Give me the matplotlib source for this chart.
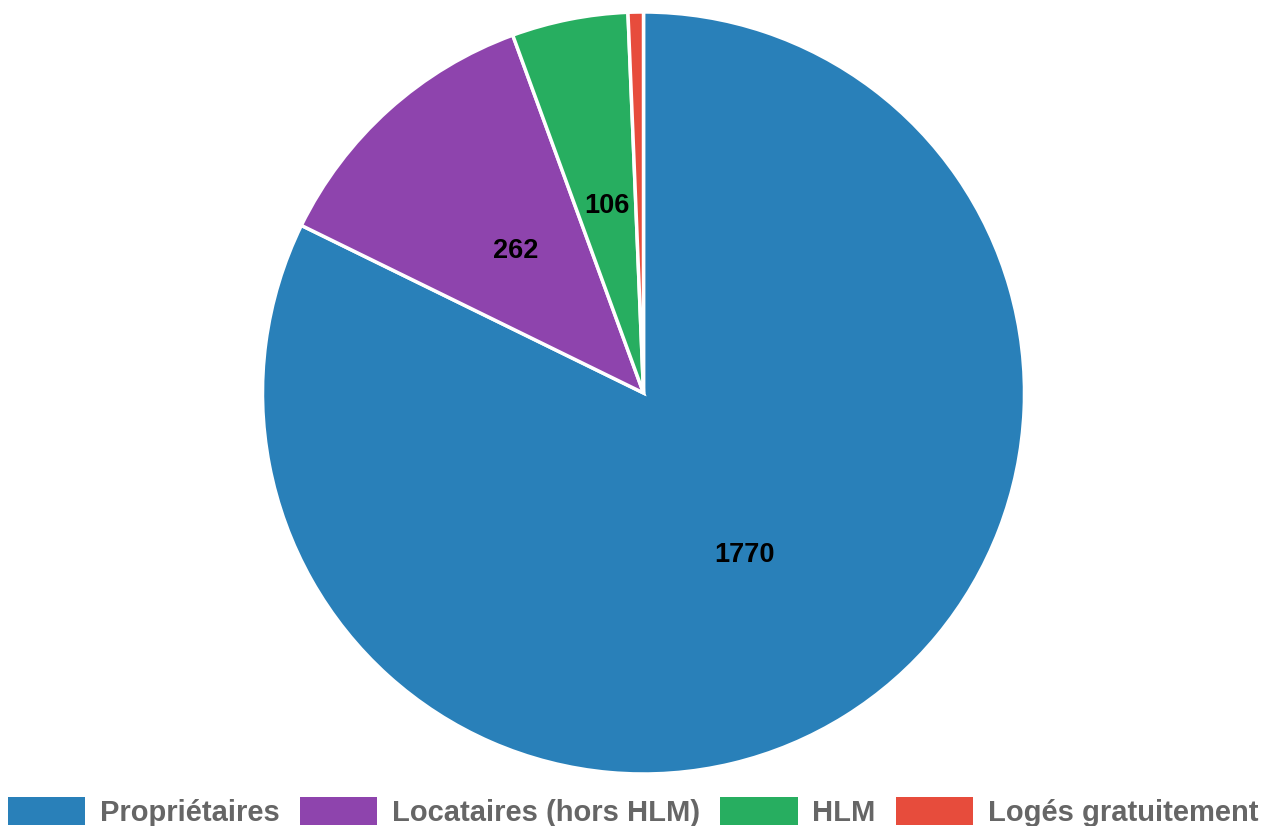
import matplotlib.pyplot as plt

# Statut d'occupation des logements
categories = ["Propriétaires", "Locataires (hors HLM)", "HLM", "Logés gratuitement"]
valeurs = [1770, 262, 106, 14]
couleurs = ["#2980b9", "#8e44ad", "#27ae60", "#e74c3c"]

plt.rcParams['font.family'] = ['Liberation Sans', 'DejaVu Sans']

W, H = 1261, 826
fig = plt.figure(figsize=(W / 100, H / 100), dpi=100)

# centre du camembert (pixels) et rayon
cx, cy, r = 643.5, 393, 381
ax = fig.add_axes([(cx - r) / W, (H - cy - r) / H, 2 * r / W, 2 * r / H])

total = sum(valeurs)
wedges, textes = ax.pie(
    valeurs, colors=couleurs, startangle=90, counterclock=False,
    labels=[str(v) if v / total > 0.02 else "" for v in valeurs],
    labeldistance=0.5,
    wedgeprops=dict(edgecolor="white", linewidth=2.5),
    textprops=dict(fontsize=19.5, fontweight="bold", color="black",
                   ha="center", va="center"),
)
ax.set_xlim(-1, 1)
ax.set_ylim(-1, 1)
ax.set_aspect("equal")
ax.axis("off")

leg = fig.legend(
    wedges, categories, loc="center", bbox_to_anchor=(0.502, (H - 812) / H),
    ncol=4, frameon=False, prop=dict(size=21, weight="bold"),
    handlelength=2.65, handleheight=1.1, handletextpad=0.5, columnspacing=0.7,
    borderpad=0,
)
for t in leg.get_texts():
    t.set_color("#666666")
for p in leg.get_patches():
    p.set_edgecolor("none")

fig.savefig("out.png", dpi=100)
